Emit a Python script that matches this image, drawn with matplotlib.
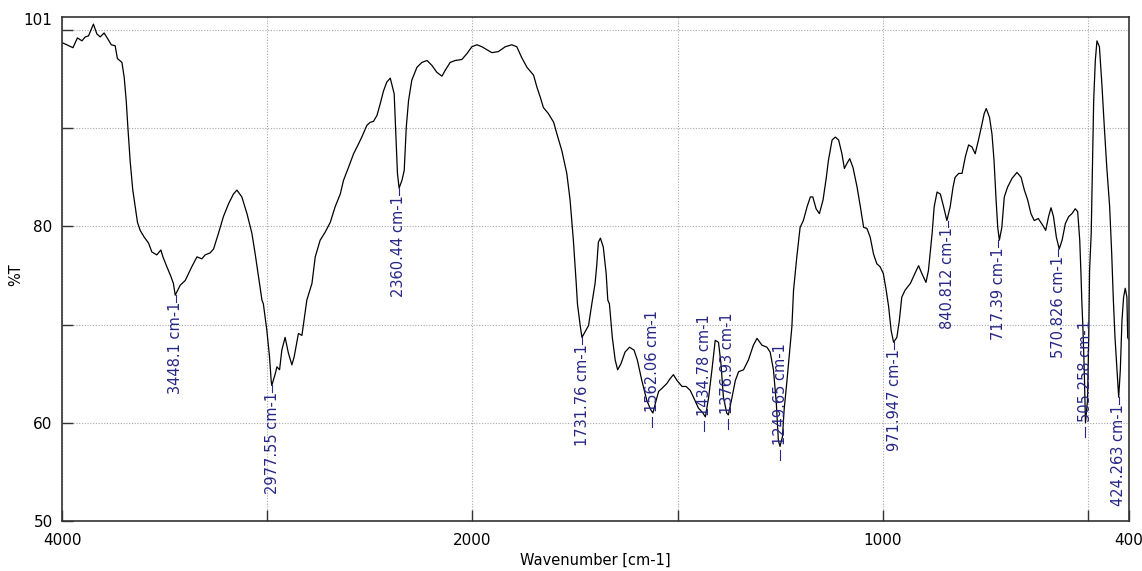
import numpy as np
import matplotlib.pyplot as plt
from matplotlib.scale import FuncScale
from matplotlib.transforms import blended_transform_factory

# IR spectrum: wavenumber [cm-1] and transmittance [%T]
wavenumber = [
    4000, 3979, 3949, 3927, 3905, 3889, 3873, 3849, 3832, 3816, 3797, 3776,
    3762, 3743, 3732, 3710, 3699, 3689, 3681, 3670, 3657, 3645, 3634, 3621,
    3601, 3580, 3564, 3540, 3520, 3510, 3491, 3471, 3459, 3450, 3426, 3401,
    3369, 3344, 3320, 3304, 3280, 3263, 3239, 3215, 3190, 3166, 3149, 3125,
    3100, 3076, 3060, 3044, 3027, 3020, 3003, 2990, 2982, 2979, 2962, 2954,
    2941, 2930, 2914, 2898, 2881, 2870, 2849, 2832, 2824, 2808, 2783, 2767,
    2743, 2719, 2694, 2670, 2645, 2629, 2605, 2580, 2556, 2540, 2515, 2499,
    2483, 2466, 2450, 2434, 2418, 2401, 2382, 2374, 2366, 2358, 2344, 2333,
    2323, 2312, 2296, 2271, 2247, 2222, 2198, 2174, 2149, 2133, 2109, 2084,
    2052, 2027, 2003, 1989, 1977, 1965, 1953, 1937, 1920, 1904, 1892, 1880,
    1867, 1851, 1843, 1835, 1827, 1815, 1802, 1794, 1782, 1770, 1762, 1754,
    1747, 1744, 1737, 1733, 1725, 1717, 1709, 1701, 1697, 1693, 1688, 1681,
    1674, 1670, 1666, 1659, 1652, 1646, 1638, 1628, 1617, 1606, 1598, 1587,
    1575, 1565, 1560, 1552, 1546, 1538, 1526, 1518, 1510, 1501, 1489, 1479,
    1469, 1461, 1449, 1438, 1432, 1424, 1416, 1408, 1400, 1394, 1388, 1380,
    1376, 1367, 1359, 1351, 1339, 1327, 1315, 1306, 1294, 1282, 1274, 1266,
    1259, 1254, 1250, 1244, 1240, 1233, 1227, 1221, 1217, 1209, 1201, 1193,
    1184, 1176, 1170, 1162, 1154, 1145, 1137, 1132, 1123, 1115, 1107, 1099,
    1093, 1087, 1080, 1072, 1062, 1054, 1046, 1038, 1030, 1022, 1014, 1006,
    998, 991, 985, 979, 973, 965, 959, 953, 945, 932, 920, 912,
    904, 894, 888, 879, 874, 867, 859, 851, 843, 835, 828, 823,
    814, 806, 798, 790, 782, 774, 766, 757, 752, 747, 739, 733,
    728, 723, 719, 715, 709, 703, 695, 684, 672, 662, 654, 646,
    638, 630, 620, 609, 602, 595, 589, 583, 576, 569, 562, 554,
    546, 538, 530, 524, 519, 516, 514, 511, 508, 506, 505, 500,
    497, 495, 491, 488, 485, 481, 477, 471, 465, 459, 453, 446,
    441, 437, 433, 428, 424, 420, 416, 412, 408, 404, 402, 400,
]
transmittance = [
    98.7, 98.5, 98.2, 99.2, 98.9, 99.3, 99.4, 100.6, 99.6, 99.3, 99.7, 99.0,
    98.5, 98.4, 97.1, 96.7, 95.2, 92.8, 90.1, 86.7, 83.7, 82.0, 80.4, 79.6,
    78.9, 78.3, 77.4, 77.1, 77.6, 76.9, 75.9, 74.9, 74.2, 73.0, 74.0, 74.5,
    75.9, 76.9, 76.7, 77.1, 77.3, 77.7, 79.3, 81.0, 82.3, 83.3, 83.7, 83.0,
    81.3, 79.3, 77.2, 74.9, 72.5, 72.1, 69.4, 66.7, 64.3, 63.8, 65.0, 65.7,
    65.4, 67.4, 68.7, 67.1, 65.9, 66.7, 69.1, 68.9, 70.1, 72.5, 74.2, 76.9,
    78.6, 79.4, 80.4, 82.0, 83.3, 84.7, 86.0, 87.4, 88.4, 89.1, 90.3, 90.6,
    90.7, 91.3, 92.5, 93.8, 94.7, 95.1, 93.5, 89.5, 85.4, 83.9, 84.7, 85.7,
    90.1, 92.8, 94.9, 96.2, 96.7, 96.9, 96.4, 95.7, 95.3, 95.9, 96.7, 96.9,
    97.0, 97.6, 98.3, 98.5, 98.3, 98.0, 97.7, 97.8, 98.3, 98.5, 98.3, 97.2,
    96.2, 95.4, 94.2, 93.2, 92.1, 91.5, 90.6, 89.4, 87.7, 85.4, 82.7, 78.6,
    74.2, 72.1, 69.8, 68.7, 69.3, 69.9, 72.1, 74.2, 76.0, 78.4, 78.8, 77.9,
    75.2, 72.5, 72.1, 68.7, 66.4, 65.4, 66.0, 67.2, 67.7, 67.4, 66.4, 64.3,
    62.3, 61.3, 61.0, 62.3, 63.2, 63.5, 64.0, 64.5, 64.9, 64.3, 63.7, 63.7,
    63.3, 62.6, 61.5, 61.0, 60.6, 62.6, 65.4, 68.4, 68.2, 66.0, 62.6, 61.0,
    60.8, 62.6, 64.3, 65.2, 65.4, 66.4, 67.9, 68.6, 67.9, 67.7, 67.2, 65.4,
    62.0, 58.2, 57.6, 58.6, 61.3, 64.3, 67.1, 69.8, 73.5, 76.9, 79.9, 80.6,
    82.0, 83.0, 83.0, 81.8, 81.3, 82.7, 85.0, 86.7, 88.8, 89.1, 88.8, 87.4,
    85.9, 86.4, 86.9, 86.0, 84.0, 82.0, 79.9, 79.8, 78.9, 77.2, 76.2, 75.9,
    75.2, 73.5, 71.8, 69.4, 68.2, 68.7, 70.4, 72.8, 73.5, 74.2, 75.3, 76.0,
    75.2, 74.3, 75.5, 79.3, 82.0, 83.5, 83.3, 82.0, 80.6, 82.0, 84.0, 85.0,
    85.4, 85.4, 87.1, 88.3, 88.1, 87.4, 88.8, 90.5, 91.5, 92.0, 91.1, 89.4,
    86.7, 82.7, 79.9, 78.6, 79.9, 83.0, 84.0, 84.9, 85.5, 85.0, 83.7, 82.7,
    81.3, 80.6, 80.8, 80.1, 79.6, 81.0, 81.9, 81.0, 78.9, 77.7, 78.6, 80.3,
    81.0, 81.3, 81.8, 81.5, 78.6, 75.2, 72.5, 69.4, 65.4, 62.0, 60.0, 62.3,
    68.7, 75.5, 79.3, 86.0, 92.8, 96.9, 98.9, 98.3, 94.5, 90.1, 86.0, 82.0,
    77.2, 72.5, 68.7, 65.4, 62.6, 65.4, 70.4, 72.8, 73.7, 72.8, 68.7, 68.5,
]

# peak picks: position, printed label, %T at the dip, label side
peak_wn = [3448.1, 2977.55, 2360.44, 1731.76, 1562.06, 1434.78, 1376.93,
           1249.65, 971.947, 840.812, 717.39, 570.826, 505.258, 424.263]
peak_lbl = ["3448.1 cm-1", "2977.55 cm-1", "2360.44 cm-1", "1731.76 cm-1",
            "1562.06 cm-1", "1434.78 cm-1", "1376.93 cm-1", "1249.65 cm-1",
            "971.947 cm-1", "840.812 cm-1", "717.39 cm-1", "570.826 cm-1",
            "505.258 cm-1", "424.263 cm-1"]
peak_t = [73.0, 63.8, 83.9, 68.7, 61.0, 60.6, 60.8,
          57.6, 68.2, 80.6, 78.6, 77.7, 60.0, 62.6]
peak_below = [True, True, True, True, False, False, False,
              False, True, True, True, True, False, True]

x_ticks = [4000, 3000, 2000, 1500, 1000, 500, 400]
x_tick_labels = ["4000", "", "2000", "", "1000", "", "400"]
y_ticks = [50, 60, 70, 80, 90, 100]
y_tick_labels = ["50", "60", "", "80", "", ""]


def forward(w):
    w = np.asarray(w, dtype=float)
    return np.where(w > 2000, 2000 + (w - 2000) / 2, w)


def inverse(u):
    u = np.asarray(u, dtype=float)
    return np.where(u > 2000, 2000 + (u - 2000) * 2, u)


tick_font = ["Liberation Sans Narrow", "DejaVu Sans"]
label_color = "#262686"

fig = plt.figure(figsize=(11.42, 5.71), dpi=100)
ax = fig.add_axes([0.0547, 0.0876, 0.9335, 0.8818])
ax.set_xscale(FuncScale(ax.xaxis, (forward, inverse)))

ax.plot(wavenumber, transmittance, color="black", lw=0.9)

for w, lbl, t, below in zip(peak_wn, peak_lbl, peak_t, peak_below):
    if below:
        ax.plot([w, w], [t, t - 0.7], color=label_color, lw=0.8)
        ax.text(w, t - 0.7, lbl, rotation=90, ha="center", va="top",
                fontsize=10.5, color=label_color, family="DejaVu Sans")
    else:
        ax.plot([w, w], [t - 0.4, t - 1.4], color=label_color, lw=0.8)
        ax.text(w, t + 0.1, lbl, rotation=90, ha="center", va="bottom",
                fontsize=10.5, color=label_color, family="DejaVu Sans")

ax.set_xlim(4000, 400)
ax.set_ylim(50, 101.28)
ax.set_xticks(x_ticks)
ax.set_xticklabels(x_tick_labels)
ax.set_yticks(y_ticks)
ax.set_yticklabels(y_tick_labels)
ax.tick_params(direction="in", length=8, width=1, color="#333333")
ax.tick_params(axis="x", pad=9)
ax.tick_params(axis="y", pad=7)
for t in ax.get_xticklabels() + ax.get_yticklabels():
    t.set_family(tick_font)
    t.set_fontsize(11)

trans = blended_transform_factory(ax.transAxes, ax.transData)
ax.text(-0.0095, 101, "101", transform=trans, ha="right", va="center",
        fontsize=11, family=tick_font)

ax.grid(True, linestyle=(0, (1, 1.5)), color="#a8a8a8", lw=0.8)
for s in ax.spines.values():
    s.set_color("#333333")
    s.set_linewidth(1.2)

ax.set_xlabel("Wavenumber [cm-1]", fontsize=10.5, family=tick_font,
              labelpad=3)
ax.set_ylabel("%T", fontsize=10.5, family=tick_font)
ax.yaxis.set_label_coords(-0.037, 0.49)

fig.savefig("out.png", dpi=100)
